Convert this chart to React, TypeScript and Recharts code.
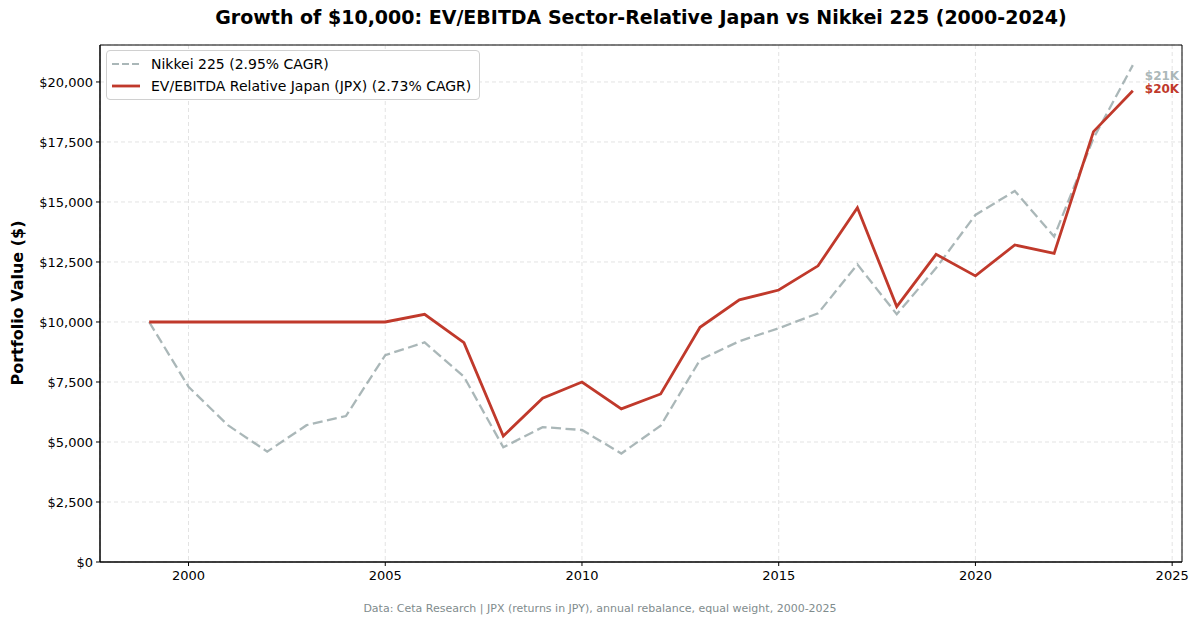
import React from "react";
import {
  LineChart,
  Line,
  XAxis,
  YAxis,
  CartesianGrid,
  ReferenceArea,
} from "recharts";

const years = [1999, 2000, 2001, 2002, 2003, 2004, 2005, 2006, 2007, 2008, 2009, 2010, 2011, 2012, 2013, 2014, 2015, 2016, 2017, 2018, 2019, 2020, 2021, 2022, 2023, 2024];
const nikkei = [10000, 7300, 5700, 4600, 5700, 6080, 8620, 9150, 7720, 4780, 5620, 5500, 4520, 5680, 8420, 9200, 9740, 10360, 12400, 10320, 12250, 14460, 15460, 13560, 17650, 20700];
const strategy = [10000, 10000, 10000, 10000, 10000, 10000, 10000, 10320, 9140, 5250, 6820, 7500, 6380, 7000, 9780, 10920, 11330, 12340, 14760, 10640, 12820, 11920, 13210, 12860, 17930, 19630];
const xTicks = [2000, 2005, 2010, 2015, 2020, 2025];
const yTicks = [0, 2500, 5000, 7500, 10000, 12500, 15000, 17500, 20000];
const endLabels = { nikkei: "$21K", strategy: "$20K" };

const data = years.map((y, i) => ({ year: y, nikkei: nikkei[i], strategy: strategy[i] }));

const FONT = "'DejaVu Sans', sans-serif";
const GREY = "#95a5a6";
const RED = "#c0392b";
const LAST = years.length - 1;

function endLabel(text: string, color: string, dy: number, opacity = 1) {
  return (props: any) => {
    if (props.index !== LAST) return null;
    return (
      <text x={props.x + 12} y={props.y + dy} fill={color} fillOpacity={opacity} fontSize={12} fontWeight="bold" fontFamily={FONT} dominantBaseline="middle">
        {text}
      </text>
    );
  };
}

function LegendBox() {
  const rows = [
    { name: "Nikkei 225 (2.95% CAGR)", color: GREY, dash: "7 3", op: 0.8 },
    { name: "EV/EBITDA Relative Japan (JPX) (2.73% CAGR)", color: RED, dash: undefined, op: 1 },
  ];
  return (
    <div style={{ position: "absolute", left: 106, top: 50, background: "#fff", border: "1px solid #d0d0d0", borderRadius: 4, padding: "2px 8px 2px 4px", fontFamily: FONT, fontSize: 14, zIndex: 2 }}>
      {rows.map((r) => (
        <div key={r.name} style={{ display: "flex", alignItems: "center", height: 22 }}>
          <svg width={30} height={10} style={{ marginRight: 10 }}>
            <line x1={1} y1={5} x2={29} y2={5} stroke={r.color} strokeOpacity={r.op} strokeWidth={r.dash ? 2.2 : 2.8} strokeDasharray={r.dash} />
          </svg>
          <span>{r.name}</span>
        </div>
      ))}
    </div>
  );
}

export default function App() {
  return (
    <div style={{ position: "absolute", left: 0, top: 0, width: 1200, height: 626, background: "#fff", fontFamily: FONT }}>
      <div style={{ position: "absolute", left: 100, width: 1082, top: 6, textAlign: "center", fontSize: 19, fontWeight: "bold" }}>
        Growth of $10,000: EV/EBITDA Sector-Relative Japan vs Nikkei 225 (2000-2024)
      </div>
      <div style={{ position: "absolute", left: 17, top: 303, transform: "translate(-50%, -50%) rotate(-90deg)", whiteSpace: "nowrap", fontSize: 16, fontWeight: "bold" }}>
        Portfolio Value ($)
      </div>
      <div style={{ position: "absolute", left: 0, width: 1200, top: 602, textAlign: "center", fontSize: 11, color: "#7f8c8d" }}>
        Data: Ceta Research | JPX (returns in JPY), annual rebalance, equal weight, 2000-2025
      </div>
      <LegendBox />
      <LineChart width={1200} height={626} data={data} margin={{ top: 45, right: 18, bottom: 34, left: 8 }}>
        <CartesianGrid stroke="#e3e3e3" strokeDasharray="4 3" />
        <XAxis
          dataKey="year"
          type="number"
          domain={[1997.75, 2025.25]}
          ticks={xTicks}
          allowDataOverflow
          height={30}
          tick={{ fill: "#000", fontSize: 13, fontFamily: FONT }}
          tickSize={4}
          tickLine={{ stroke: "#000" }}
          axisLine={{ stroke: "#000" }}
          tickMargin={5}
        />
        <YAxis
          type="number"
          domain={[0, 21540]}
          ticks={yTicks}
          allowDataOverflow
          width={92}
          tick={{ fill: "#000", fontSize: 13, fontFamily: FONT }}
          tickSize={4}
          tickLine={{ stroke: "#000" }}
          axisLine={{ stroke: "#000" }}
          tickMargin={3}
          tickFormatter={(v) => "$" + Number(v).toLocaleString("en-US")}
        />
        <ReferenceArea x1={1997.75} x2={2025.25} y1={0} y2={21540} fill="none" stroke="#000" strokeWidth={1} ifOverflow="visible" />
        <Line
          dataKey="nikkei"
          type="linear"
          stroke={GREY}
          strokeOpacity={0.8}
          strokeWidth={2.3}
          strokeDasharray="10 4.5"
          dot={false}
          isAnimationActive={false}
          label={endLabel(endLabels.nikkei, GREY, 11, 0.8)}
        />
        <Line
          dataKey="strategy"
          type="linear"
          stroke={RED}
          strokeWidth={2.8}
          dot={false}
          isAnimationActive={false}
          label={endLabel(endLabels.strategy, RED, -1)}
        />
      </LineChart>
    </div>
  );
}
